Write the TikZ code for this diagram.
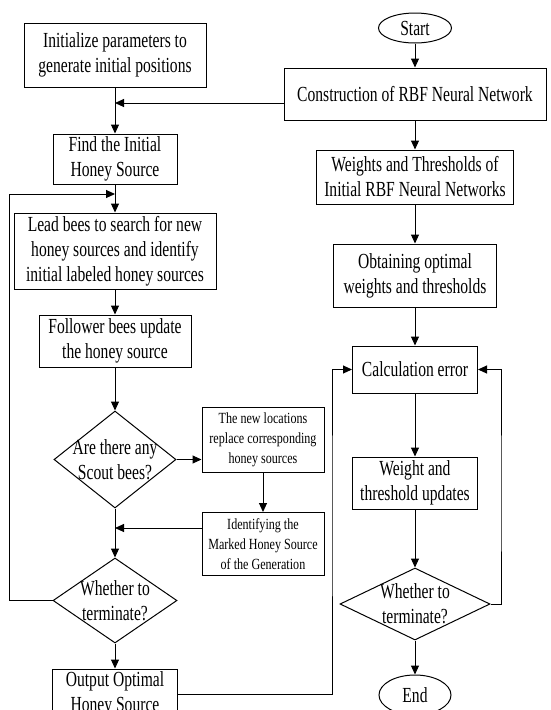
\documentclass[tikz,border=0pt]{standalone}
\usepackage{fontspec}
\setmainfont{Liberation Serif}[FakeStretch=0.725]
\newfontfamily\sidefont{Liberation Serif}[FakeStretch=0.78]
\usepackage{tikz}
\usetikzlibrary{positioning,arrows.meta,shapes.geometric}

\begin{document}
\begin{tikzpicture}[
      x=1pt, y=-1pt,
      line width=1pt,
      every node/.style={
        align=center,
        inner sep=0pt,
        font=\fontsize{21.5}{25}\selectfont
      },
      box/.style={draw},
      smalltext/.style={font=\sidefont\fontsize{15.5}{20}\selectfont},
      decision/.style={draw, diamond, inner sep=-14pt},
      terminal/.style={draw, ellipse},
      >={Triangle[length=9pt,width=8pt]}
    ]
    \useasboundingbox (0,0) rectangle (550,710);

    % Left column
    \node (n1) [box, minimum width=182pt, minimum height=64pt] at (115,55) {Initialize parameters to\\generate initial positions};
    \node (n2) [box, minimum width=124pt, minimum height=50pt, below=46pt of n1] {Find the Initial\\Honey Source};
    \node (n3) [box, minimum width=202pt, minimum height=76pt, below=28pt of n2] {Lead bees to search for new\\honey sources and identify\\initial labeled honey sources};
    \node (n4) [box, minimum width=152pt, minimum height=52pt, below=25pt of n3] {Follower bees update\\the honey source};
    \node (n5) [decision, minimum width=122pt, minimum height=97pt, below=43pt of n4] {Are there any\\Scout bees?};
    \node (n6) [decision, minimum width=124pt, minimum height=85pt, below=49pt of n5] {Whether to\\terminate?};
    \node (n7) [box, minimum width=125pt, text height=42pt, text depth=8pt, below=25pt of n6] {Output Optimal\\Honey Source};

    % Side boxes
    \node (n8) [box, smalltext, minimum width=122pt, minimum height=65pt] at (263,440) {The new locations\\replace corresponding\\honey sources};
    \node (n9) [box, smalltext, minimum width=122pt, minimum height=63pt, below=39pt of n8] {Identifying the\\Marked Honey Source\\of the Generation};

    % Right column
    \node (n10) [terminal, minimum width=73pt, minimum height=30pt] at (415,28) {Start};
    \node (n11) [box, minimum width=262pt, minimum height=52pt, below=24pt of n10] {Construction of RBF Neural Network};
    \node (n12) [box, minimum width=197pt, minimum height=54pt, below=29pt of n11] {Weights and Thresholds of\\Initial RBF Neural Networks};
    \node (n13) [box, minimum width=163pt, minimum height=63pt, below=39pt of n12] {Obtaining optimal\\weights and thresholds};
    \node (n14) [box, minimum width=125pt, minimum height=47pt, below=38pt of n13] {Calculation error};
    \node (n15) [box, minimum width=125pt, minimum height=52pt, below=63pt of n14] {Weight and\\threshold updates};
    \node (n16) [decision, minimum width=150pt, minimum height=72pt, below=58pt of n15] {Whether to\\terminate?};
    \node (n17) [terminal, minimum width=72pt, minimum height=40pt, below=34pt of n16] {End};

    % Bends of the loops
    \coordinate (lft) at (9,194);
    \coordinate (loop) at (115,194);
    \coordinate (jl) at (332,500);
    \coordinate (jr) at (501,500);

    % Sequential arrows
    \draw[->] (n1) -- (n2);
    \draw[->] (n2) -- (n3);
    \draw[->] (n3) -- (n4);
    \draw[->] (n4) -- (n5);
    \draw[->] (n5) -- (n6);
    \draw[->] (n6) -- (n7);
    \draw[->] (n8) -- (n9);
    \draw[->] (n10) -- (n11);
    \draw[->] (n11) -- (n12);
    \draw[->] (n12) -- (n13);
    \draw[->] (n13) -- (n14);
    \draw[->] (n14) -- (n15);
    \draw[->] (n15) -- (n16);
    \draw[->] (n16) -- (n17);

    % Side and loop arrows
    \draw[->] ([yshift=-9pt]n11.west) -- ([yshift=-9pt]n11.west -| n1.south);
    \draw[->] (n5.east) -- (n5.east -| n8.west);
    \draw[->] ([yshift=16pt]n9.west) -- ([yshift=16pt]n9.west -| n5.south);
    \draw[->] (n6.west) -| (lft) |- (loop);
    \draw[->] (n7.east) -| (jl) |- (n14.west);
    \draw[->] (n16.east) -| (jr) |- (n14.east);
  \end{tikzpicture}
\end{document}
